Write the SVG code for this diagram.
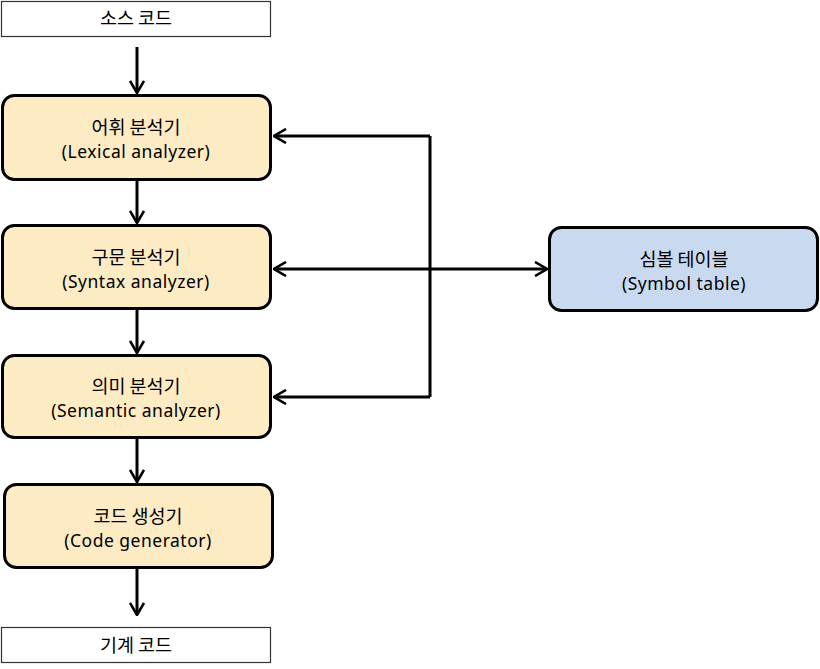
<svg xmlns="http://www.w3.org/2000/svg" width="820" height="669" viewBox="0 0 820 669">
<defs>
<marker id="ah" viewBox="0 0 14 16" refX="13" refY="8" markerWidth="14" markerHeight="16" markerUnits="userSpaceOnUse" orient="auto-start-reverse">
<path d="M1,1 L13,8 L1,15" fill="none" stroke="#000" stroke-width="2.6" stroke-linejoin="miter"/>
</marker>
</defs>
<style>
.t{font-family:"Noto Sans CJK KR","Noto Sans",sans-serif;font-size:18.5px;fill:#000;text-anchor:middle}
.e{font-family:"Noto Sans","Noto Sans CJK KR",sans-serif;font-size:17.5px;letter-spacing:0.5px;fill:#000;text-anchor:middle}
.io{fill:#fff;stroke:#333;stroke-width:1.2}
.st{fill:#FDEBC4;stroke:#000;stroke-width:3}
.sym{fill:#C9DAF0;stroke:#000;stroke-width:3}
.c{fill:none;stroke:#000;stroke-width:3}
</style>
<g id="src"><rect class="io" x="1.5" y="1.5" width="269" height="35"/><text class="t" x="136" y="25">소스 코드</text></g>
<g id="lex"><rect class="st" x="2.5" y="95.5" width="268" height="84" rx="12"/><text class="t" x="136" y="133.5">어휘 분석기</text><text class="e" x="136" y="157.5">(Lexical analyzer)</text></g>
<g id="syn"><rect class="st" x="2.5" y="225.5" width="268" height="83" rx="12"/><text class="t" x="136" y="263.5">구문 분석기</text><text class="e" x="136" y="287.5">(Syntax analyzer)</text></g>
<g id="sem"><rect class="st" x="2.5" y="355.5" width="268" height="82" rx="12"/><text class="t" x="136" y="392.5">의미 분석기</text><text class="e" x="136" y="416.5">(Semantic analyzer)</text></g>
<g id="gen"><rect class="st" x="4.5" y="484.5" width="268" height="83" rx="12"/><text class="t" x="138" y="522.5">코드 생성기</text><text class="e" x="138" y="546.5">(Code generator)</text></g>
<g id="out"><rect class="io" x="1.5" y="627.5" width="269" height="35"/><text class="t" x="136" y="652">기계 코드</text></g>
<g id="symtab"><rect class="sym" x="549.5" y="227.5" width="268" height="83" rx="12"/><text class="t" x="684" y="265.5">심볼 테이블</text><text class="e" x="684" y="289.5">(Symbol table)</text></g>
<g id="connectors">
<line class="c" x1="137" y1="47" x2="137" y2="93" marker-end="url(#ah)"/>
<line class="c" x1="137" y1="180" x2="137" y2="223" marker-end="url(#ah)"/>
<line class="c" x1="137" y1="309" x2="137" y2="353" marker-end="url(#ah)"/>
<line class="c" x1="137" y1="438" x2="137" y2="482" marker-end="url(#ah)"/>
<line class="c" x1="137" y1="568" x2="137" y2="615" marker-end="url(#ah)"/>
<polyline class="c" points="430,136 430,397" stroke-width="2.6"/>
<line class="c" x1="430" y1="136" x2="274" y2="136" stroke-width="2.6" marker-end="url(#ah)"/>
<line class="c" x1="430" y1="397" x2="274" y2="397" stroke-width="2.6" marker-end="url(#ah)"/>
<line class="c" x1="274" y1="269" x2="547" y2="269" marker-start="url(#ah)" marker-end="url(#ah)"/>
</g>
</svg>
